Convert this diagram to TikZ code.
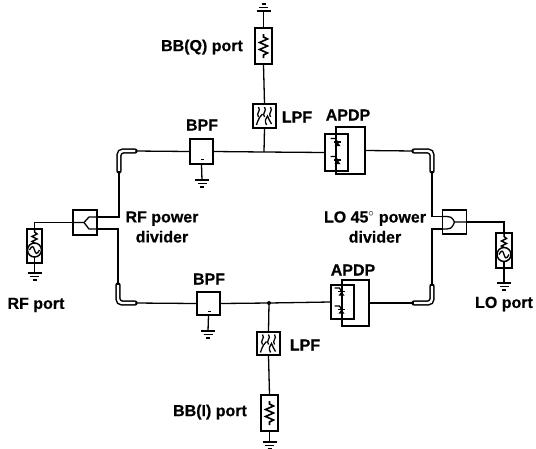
\documentclass[tikz,border=0pt]{standalone}
\usepackage{fontspec}
\setmainfont{Liberation Sans}[BoldFeatures={FakeBold=0.5}]
\usepackage{tikz}
\usetikzlibrary{calc}
\usetikzlibrary{arrows.meta, positioning}

\tikzset{
  wire/.style={line width=1.3pt},
  compbox/.style={draw, line width=1.6pt, minimum width=#1, inner sep=0pt},
  lbl/.style={font=\fontsize{16}{20}\selectfont\bfseries, align=center, inner sep=0pt},
  bendline/.style={line width=1.5pt, double=white, double distance=2.4pt, rounded corners=4pt, line cap=round},
  gnd/.pic={
    \draw[line width=1.6pt] (-7,0) -- (7,0);
    \draw[line width=1.6pt] (-4.5,3.5) -- (4.5,3.5);
    \draw[line width=1.6pt] (-2,7) -- (2,7);
  },
  reszig/.pic={
    \draw[line width=1.6pt] (0,-12) -- (0,-9) -- (4,-7) -- (-4,-3.5) -- (4,0) -- (-4,3.5) -- (4,7) -- (0,9) -- (0,12);
  },
  srcsym/.pic={
    \draw[line width=1.5pt] (0,-17) -- (0,-14) -- (2.5,-12) -- (-2.5,-9.5) -- (2.5,-7) -- (-2.5,-4.5) -- (0,-3);
    \draw[line width=1.5pt] (0,4) circle (7);
    \draw[line width=1.3pt] (-5,4) .. controls (-2.5,-1) and (-1,0) .. (0,4) .. controls (1,8) and (2.5,9) .. (5,4);
    \draw[line width=1.5pt] (0,11) -- (0,17);
  },
  lpfsym/.pic={
    \foreach \xs in {-6,0,6} {
      \draw[line width=1.3pt] (\xs,-9) .. controls (\xs+3,-5) and (\xs-3,-3) .. (\xs,1);
    }
    \draw[line width=1.3pt] (-8,9) .. controls (-6,2) and (-4,0) .. (-2,-2);
    \draw[line width=1.3pt] (2,9) .. controls (0,5) and (1,2) .. (3,0) .. controls (5,3) and (5,6) .. (7,8);
  },
  diode/.pic={
    \fill (-3,2.5) -- (3,2.5) -- (0,-1.5) -- cycle;
    \draw[line width=1.3pt] (-3.5,-1.5) -- (3.5,-1.5);
    \draw[line width=1.3pt] (-7,-5) -- (-2,-5) -- (0,-1.5);
  },
}

\begin{document}
\begin{tikzpicture}[x=1pt, y=-1pt, >=Latex]
    \useasboundingbox (0,0) rectangle (536,448);

    % -------------------------------------------------------
    % 1. Boxes
    % -------------------------------------------------------
    \node[compbox=17pt, minimum height=36pt] (resQ) at (263.5,46) {};
    \node[compbox=23pt, minimum height=24pt] (lpfQ) at (264.5,116) {};
    \node[compbox=23pt, minimum height=25pt] (bpfQ) at (201.5,151.5) {};
    \node[compbox=17pt, minimum height=36pt] (resI) at (269.5,413) {};
    \node[compbox=23pt, minimum height=23pt] (lpfI) at (268.5,343.5) {};
    \node[compbox=23pt, minimum height=23pt] (bpfI) at (208.5,303.5) {};

    \node[compbox=24pt, minimum height=25pt] (divRF) at (85,222.5) {};
    \node[compbox=24pt, minimum height=24pt] (divLO) at (454.5,222) {};
    \node[compbox=15pt, minimum height=34pt] (srcRF) at (34.5,246) {};
    \node[compbox=16pt, minimum height=35pt] (srcLO) at (504,250.5) {};

    \node[compbox=23pt, minimum height=37pt] (apdpQa) at (336.5,152.5) {};
    \node[compbox=29pt, minimum height=47pt] (apdpQb) at (350.5,150.5) {};
    \node[compbox=23pt, minimum height=34pt] (apdpIa) at (342.5,302) {};
    \node[compbox=27pt, minimum height=46pt] (apdpIb) at (355.5,303) {};

    % -------------------------------------------------------
    % 2. Symbols inside the boxes
    % -------------------------------------------------------
    \pic at (resQ) {reszig};
    \pic at (resI) {reszig};
    \pic at (lpfQ) {lpfsym};
    \pic at (lpfI) {lpfsym};
    \pic at (srcRF) {srcsym};
    \pic at (srcLO) {srcsym};
    \fill (bpfQ) ++(-1,7) rectangle ++(3,1.8);
    \fill (bpfI) ++(-1,7) rectangle ++(3,1.8);

    \foreach \dy in {-9,9} {
      \pic at ($(apdpQa)+(1,\dy)$) {diode};
      \pic at ($(apdpIa)+(-1,\dy)$) {diode};
    }

    % Y junctions of the dividers
    \draw[wire] (divRF.west) -- ($(divRF)+(-1,0)$) -- ++(5,-5.5) -- ($(divRF.east)+(0,-5.5)$);
    \draw[wire] ($(divRF)+(-1,0)$) -- ++(5,6.5) -- ($(divRF.east)+(0,6.5)$);
    \draw[wire] (divLO.east) -- ($(divLO)+(0,0)$) .. controls ($(divLO)+(-3,-5.5)$) .. ($(divLO.west)+(0,-5.5)$);
    \draw[wire] ($(divLO)+(0,0)$) .. controls ($(divLO)+(-3,7)$) .. ($(divLO.west)+(0,7)$);

    % -------------------------------------------------------
    % 3. Ground points
    % -------------------------------------------------------
    \coordinate (gndQ) at (263.5,11);
    \coordinate (gndBQ) at (202,180);
    \coordinate (gndRF) at (34.5,273);
    \coordinate (gndLO) at (504,283);
    \coordinate (gndBI) at (208,331);
    \coordinate (gndI) at (269.5,442);

    \pic[yscale=-1] at (gndQ) {gnd};
    \foreach \g in {gndBQ,gndRF,gndLO,gndBI,gndI} {
      \pic at (\g) {gnd};
    }

    \draw[wire] (resQ.north) -- (gndQ);
    \draw[wire] (bpfQ.south) -- (gndBQ);
    \draw[wire] (bpfI.south) -- (gndBI);
    \draw[wire] (srcRF.south) -- (gndRF);
    \draw[wire] (srcLO.south) -- (gndLO);
    \draw[wire] (resI.south) -- (gndI);

    % -------------------------------------------------------
    % 4. Upper and lower branches
    % -------------------------------------------------------
    \coordinate (juncQ) at (264,152);
    \coordinate (juncI) at (269,303);

    \draw[wire] (resQ.south) -- (lpfQ.north);
    \draw[wire] (lpfQ.south) -- (juncQ);
    \draw[wire] (bpfQ.east) -- (juncQ) -- (apdpQa.west);
    \draw[wire] (bpfI.east) -- (juncI) -- (apdpIa.west);
    \draw[wire] (juncI) -- (lpfI.north);
    \draw[wire] (lpfI.south) -- (resI.north);
    \fill (juncI) circle (2);

    % Bends
    \coordinate (bendTLa) at (135,151);
    \coordinate (bendTLb) at (119,171);
    \coordinate (bendBLa) at (135,303);
    \coordinate (bendBLb) at (118,285);
    \coordinate (bendTRa) at (414,151);
    \coordinate (bendTRb) at (432,171);
    \coordinate (bendBRa) at (414,303);
    \coordinate (bendBRb) at (432,286);

    \foreach \b in {TL,BL,TR,BR} {
      \draw[bendline] (bend\b a) -| (bend\b b);
    }

    \draw[wire] (bendTLa) -- (bpfQ.west);
    \draw[wire] (bendBLa) -- (bpfI.west);
    \draw[wire] (bendTRa) -- (apdpQb.east);
    \draw[wire] (bendBRa) -- (apdpIb.east);

    \draw[wire] ($(divRF.east)+(0,-5.5)$) -| (bendTLb);
    \draw[wire] ($(divRF.east)+(0,6.5)$) -| (bendBLb);
    \draw[wire] ($(divLO.west)+(0,-5.5)$) -| (bendTRb);
    \draw[wire] ($(divLO.west)+(0,7)$) -| (bendBRb);

    % -------------------------------------------------------
    % 5. Ports
    % -------------------------------------------------------
    \draw[wire] (divRF.west) -| (srcRF.north);
    \draw[wire] (divLO.east) -| (srcLO.north);

    % -------------------------------------------------------
    % 6. Labels
    % -------------------------------------------------------
    \node[lbl] (lblBBQ) at (202,47) {BB(Q) port};
    \node[lbl] (lblLPFQ) at (297,117) {LPF};
    \node[lbl] (lblBPFQ) at (202,125) {BPF};
    \node[lbl] (lblAPDPQ) at (348,115) {APDP};
    \node[lbl] (lblDivRF) at (162,227) {RF power\\divider};
    \node[lbl] (lblDivLO) at (375,227) {LO 45$^{\circ}$ power\\divider};
    \node[lbl] (lblRF) at (36,305) {RF port};
    \node[lbl] (lblLO) at (504,304) {LO port};
    \node[lbl] (lblBPFI) at (209,279) {BPF};
    \node[lbl] (lblAPDPI) at (353,270) {APDP};
    \node[lbl] (lblLPFI) at (305,345) {LPF};
    \node[lbl] (lblBBI) at (210,412) {BB(I) port};
\end{tikzpicture}
\end{document}
